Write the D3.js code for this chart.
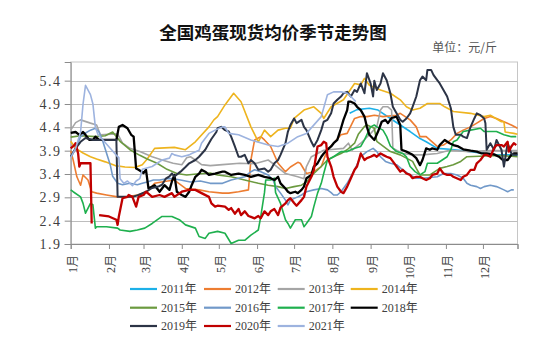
<!DOCTYPE html>
<html><head><meta charset="utf-8">
<script src="https://cdn.jsdelivr.net/npm/d3@7"></script>
<style>body{margin:0;background:#fff}</style>
</head><body>
<svg id="c" width="550" height="340"></svg>
<script>
const title = "全国鸡蛋现货均价季节走势图";
const unitLabel = "单位：元/斤";
const monthLabels = ["1月","2月","3月","4月","5月","6月","7月","8月","9月","10月","11月","12月"];
const monthStartDay = [0,31,59,90,120,151,181,212,243,273,304,334];
const yTickValues = [1.9,2.4,2.9,3.4,3.9,4.4,4.9,5.4];
const years = ["2011年","2012年","2013年","2014年","2015年","2016年","2017年","2018年","2019年","2020年","2021年"];

// [day of year, price]
const s2011 = [[226,4.7],[232,4.78],[242,4.81],[249,4.77],[259,4.59],[267,4.45],[275,4.31],[283,4.16],[288,4.09],[297,3.95],[307,3.93],[324,3.88],[335,3.84],[345,3.81],[362,3.81]];
const s2012 = [[0,3.9],[2,3.7],[5,3.34],[8,3.16],[10,3.38],[14,3.27],[17,3.02],[21,2.99],[29,2.95],[38,2.91],[46,2.91],[54,2.95],[62,3.02],[68,3.2],[76,3.24],[84,3.27],[93,3.09],[104,3.06],[112,3.02],[123,2.99],[128,2.99],[136,3.02],[144,3.06],[146,3.7],[149,4.13],[154,4.2],[157,4.13],[162,3.99],[168,3.63],[174,3.45],[178,3.55],[184,3.65],[186,3.63],[191,3.41],[197,3.45],[203,3.56],[208,3.92],[213,4.06],[219,4.24],[224,4.27],[230,4.59],[235,4.63],[240,4.63],[246,4.66],[253,4.63],[264,4.66],[267,4.7],[275,4.56],[280,4.41],[283,4.2],[288,4.2],[297,3.99],[302,4.02],[308,4.13],[313,4.27],[318,4.34],[324,4.41],[329,4.49],[335,4.59],[340,4.63],[345,4.59],[351,4.52],[357,4.45],[362,4.38]];
const s2013 = [[0,4.34],[4,4.5],[8,4.56],[16,4.49],[21,4.45],[24,4.24],[38,4.26],[42,4.06],[48,3.95],[56,3.88],[66,3.77],[74,3.7],[83,3.63],[90,3.6],[94,3.75],[97,3.77],[101,3.7],[106,3.6],[113,3.58],[123,3.6],[137,3.63],[149,3.62],[160,3.7],[165,3.6],[174,3.41],[184,3.34],[189,3.3],[191,3.56],[195,3.77],[205,3.91],[221,3.95],[225,4.06],[228,3.91],[235,4.06],[242,4.24],[248,4.41],[251,4.77],[253,4.84],[257,4.84],[260,4.77],[261,3.95],[264,3.91],[269,3.84],[277,3.81],[285,3.81],[297,3.84],[307,3.91],[323,3.88],[339,3.9],[362,3.9]];
const s2014 = [[0,4.1],[4,3.95],[10,3.85],[16,3.77],[21,3.72],[28,3.66],[36,3.58],[44,3.55],[52,3.54],[58,3.6],[62,3.72],[68,3.95],[84,3.97],[93,3.92],[101,4.09],[112,4.41],[116,4.56],[119,4.63],[125,4.88],[132,5.13],[138,4.95],[146,4.41],[152,4.09],[157,4.34],[162,4.2],[168,4.34],[174,4.38],[178,4.38],[181,4.59],[189,4.77],[197,4.84],[203,4.7],[205,4.59],[211,4.84],[221,4.99],[230,5.34],[235,5.31],[238,5.45],[242,5.3],[251,5.2],[259,5.13],[267,4.99],[272,4.84],[277,4.77],[283,4.81],[289,4.91],[299,4.91],[303,4.84],[308,4.77],[310,4.74],[324,4.7],[335,4.63],[340,4.66],[349,4.52],[351,4.52],[352,4.3],[359,4.27],[362,4.25]];
const s2015 = [[0,4.19],[8,4.22],[20,4.2],[28,4.22],[34,4.3],[40,4.1],[48,3.92],[56,3.8],[62,3.72],[70,3.63],[78,3.5],[86,3.41],[94,3.38],[102,3.4],[113,3.42],[119,3.38],[130,3.34],[141,3.27],[152,3.2],[160,3.16],[168,3.13],[174,3.09],[181,3.13],[187,3.16],[191,3.23],[197,3.41],[203,3.56],[208,3.7],[213,3.77],[219,3.84],[224,3.92],[230,4.06],[233,4.25],[238,4.42],[240,4.45],[246,4.38],[248,4.1],[259,3.88],[267,3.81],[272,3.74],[277,3.67],[280,3.52],[283,3.38],[291,3.38],[299,3.52],[305,3.56],[310,3.6],[316,3.67],[321,3.77],[331,3.78],[345,3.8],[357,3.78],[362,3.77]];
const s2016 = [[0,3.77],[4,3.95],[8,4.2],[12,4.28],[16,4.34],[20,4.38],[23,4.3],[26,4.1],[29,3.85],[32,3.6],[34,3.35],[38,3.2],[42,3.17],[48,3.2],[54,3.17],[58,3.2],[62,3.23],[67,3.27],[72,3.27],[78,3.3],[83,3.3],[89,3.27],[97,3.23],[105,3.25],[113,3.2],[123,3.2],[130,3.27],[141,3.34],[146,3.45],[149,3.49],[154,3.45],[160,3.38],[164,3.27],[166,3.13],[170,2.99],[174,2.84],[176,2.74],[178,2.84],[184,2.91],[187,2.95],[191,3.02],[197,3.06],[203,3.09],[208,3.06],[211,3.0],[213,2.95],[216,2.95],[219,3.02],[224,3.2],[230,3.49],[235,3.77],[240,3.88],[245,3.95],[248,3.88],[251,3.77],[255,3.67],[259,3.63],[264,3.6],[269,3.49],[275,3.38],[280,3.31],[285,3.31],[297,3.34],[302,3.41],[308,3.41],[313,3.38],[318,3.31],[321,3.2],[324,3.16],[329,3.13],[332,3.09],[335,3.13],[340,3.16],[345,3.13],[351,3.06],[354,3.02],[357,3.06],[359,3.06]];
const s2017 = [[0,3.06],[2,3.02],[8,2.91],[10,2.77],[12,2.56],[16,2.77],[18,2.74],[20,2.24],[21,2.27],[29,2.27],[38,2.24],[40,2.2],[48,2.17],[54,2.2],[60,2.24],[66,2.34],[74,2.49],[82,2.49],[88,2.42],[93,2.31],[101,2.24],[104,2.06],[109,2.02],[112,2.13],[119,2.17],[125,2.13],[130,1.91],[136,1.98],[141,1.98],[146,2.09],[152,2.2],[154,2.49],[157,3.0],[158,3.27],[162,3.27],[165,3.31],[166,3.0],[170,2.77],[174,2.42],[176,2.34],[178,2.24],[182,2.42],[187,2.42],[189,2.27],[191,2.34],[195,2.49],[197,2.7],[200,2.99],[203,3.2],[205,3.41],[208,3.7],[213,3.77],[219,3.88],[224,3.88],[230,3.95],[235,3.99],[238,4.13],[243,4.41],[246,4.45],[248,4.41],[253,4.34],[256,4.2],[259,4.0],[264,3.88],[269,3.84],[272,3.77],[275,3.56],[279,3.45],[283,3.38],[287,3.45],[289,3.63],[297,3.63],[301,3.7],[305,3.77],[308,3.92],[310,4.09],[313,4.13],[318,4.31],[324,4.34],[332,4.38],[335,4.31],[345,4.31],[351,4.24],[357,4.2],[361,4.2]];
const s2018 = [[0,4.28],[4,4.3],[7,4.24],[10,4.3],[12,4.24],[15,4.13],[18,4.13],[20,4.2],[23,4.13],[28,4.13],[37,4.13],[39,4.41],[42,4.45],[46,4.38],[49,4.24],[51,4.2],[53,3.52],[55,3.49],[59,3.42],[61,3.49],[63,3.09],[66,3.13],[68,3.16],[72,3.02],[74,3.09],[76,3.16],[80,3.06],[82,3.24],[84,3.38],[86,3.02],[90,2.95],[93,2.91],[96,3.02],[98,3.16],[101,3.34],[104,3.41],[106,3.49],[109,3.45],[112,3.38],[117,3.41],[123,3.45],[125,3.45],[130,3.38],[136,3.41],[141,3.38],[146,3.34],[152,3.38],[157,3.34],[162,3.31],[165,3.27],[168,3.34],[170,3.2],[174,3.09],[176,3.02],[178,2.99],[182,3.02],[184,2.99],[187,3.06],[189,3.13],[191,3.31],[195,3.38],[197,3.56],[200,3.63],[203,3.77],[205,3.84],[208,3.92],[211,3.99],[213,4.06],[216,4.13],[219,4.38],[221,4.56],[224,4.77],[225,4.95],[227,4.95],[230,4.91],[232,4.84],[235,4.77],[238,4.63],[240,4.41],[242,4.24],[246,4.13],[249,4.31],[252,4.52],[255,4.56],[257,4.49],[260,4.6],[264,4.63],[267,4.45],[268,3.92],[272,3.88],[275,3.84],[277,3.81],[280,3.74],[283,3.59],[285,3.7],[288,3.95],[291,3.92],[293,3.95],[297,3.92],[299,4.02],[303,4.13],[307,4.06],[310,4.02],[314,3.99],[318,3.93],[324,3.9],[329,3.88],[333,3.84],[337,3.84],[343,3.82],[347,3.77],[350,3.7],[354,3.7],[357,3.81],[359,3.84],[362,3.84]];
const s2019 = [[0,3.77],[4,3.95],[8,4.09],[12,4.17],[18,4.13],[23,4.13],[37,4.13],[38,2.91],[45,2.91],[50,2.91],[55,2.95],[61,3.02],[66,3.1],[71,3.13],[74,3.17],[77,3.3],[80,3.35],[82,3.41],[84,3.35],[89,3.45],[93,3.55],[96,3.63],[101,3.7],[104,3.77],[109,3.92],[112,4.06],[114,4.15],[118,4.3],[119,4.38],[122,4.41],[125,4.34],[128,4.31],[130,4.2],[133,3.99],[136,3.77],[138,3.77],[141,3.81],[144,3.63],[146,3.7],[149,3.63],[152,3.49],[157,3.52],[160,3.45],[162,3.49],[165,3.63],[168,3.7],[170,3.81],[174,4.06],[176,4.31],[178,4.45],[181,4.59],[183,4.49],[187,4.56],[189,4.41],[191,4.34],[195,4.09],[197,3.99],[200,4.13],[203,4.34],[205,4.52],[208,4.56],[211,4.7],[213,4.91],[216,4.99],[219,5.06],[221,5.13],[224,5.16],[227,5.06],[230,5.2],[232,5.16],[235,5.34],[238,5.13],[240,5.56],[243,5.34],[245,5.06],[246,5.4],[248,5.2],[251,5.34],[253,5.56],[256,5.41],[259,5.13],[261,4.84],[264,4.7],[267,4.56],[269,4.52],[272,4.59],[275,4.7],[277,4.84],[280,5.06],[283,5.41],[285,5.49],[288,5.41],[289,5.63],[292,5.63],[294,5.52],[297,5.41],[299,5.34],[302,5.2],[305,5.06],[308,4.81],[310,4.41],[312,4.24],[316,4.24],[318,4.2],[321,4.17],[324,4.41],[327,4.59],[329,4.7],[332,4.66],[335,4.59],[336,4.49],[337,3.92],[340,4.06],[343,3.92],[345,4.13],[349,3.92],[351,3.56],[354,4.06],[357,3.84],[359,3.81],[362,3.81]];
const s2020 = [[0,3.95],[3,4.02],[4,4.06],[6,3.84],[7,3.56],[8,3.63],[16,3.63],[17,2.34],[20,null],[23,2.52],[31,2.49],[37,2.42],[38,2.31],[39,2.49],[42,2.88],[46,2.91],[47,2.95],[50,2.91],[53,2.7],[55,2.91],[59,2.95],[61,3.02],[66,2.91],[72,2.95],[76,2.91],[82,2.99],[84,2.91],[90,3.02],[96,3.06],[101,3.06],[106,2.99],[112,2.91],[114,2.77],[117,2.7],[119,2.72],[125,2.7],[128,2.63],[130,2.67],[133,2.55],[136,2.65],[138,2.52],[141,2.6],[144,2.5],[146,2.48],[149,2.45],[152,2.5],[154,2.45],[157,2.6],[160,2.52],[162,2.6],[165,2.65],[168,2.52],[170,2.68],[174,2.77],[176,2.84],[178,2.88],[181,2.78],[183,2.72],[187,2.84],[189,2.91],[191,3.13],[195,3.34],[197,3.49],[200,3.99],[203,4.02],[205,4.09],[207,4.06],[208,3.77],[211,3.56],[213,3.34],[216,3.13],[219,3.02],[221,2.99],[224,3.13],[227,3.31],[230,3.49],[232,3.56],[235,3.84],[238,3.7],[240,3.74],[243,3.77],[246,3.81],[248,3.77],[251,3.84],[253,3.81],[256,3.77],[259,3.74],[261,3.67],[264,3.56],[267,3.45],[269,3.49],[272,3.41],[275,3.38],[277,3.31],[280,3.34],[283,3.34],[285,3.31],[288,3.27],[291,3.31],[293,3.38],[297,3.41],[299,3.52],[302,3.41],[305,3.38],[308,3.38],[310,3.34],[316,3.27],[318,3.34],[321,3.38],[324,3.49],[327,3.49],[329,3.63],[332,3.7],[335,3.81],[337,3.81],[340,3.77],[343,3.95],[345,4.02],[349,4.02],[351,3.99],[354,4.09],[355,3.88],[357,3.99],[359,4.06],[361,4.02]];
const s2021 = [[0,3.75],[4,3.95],[8,4.3],[10,4.9],[12,5.3],[16,5.1],[18,4.9],[20,4.4],[22,4.25],[27,4.1],[32,3.95],[37,3.8],[39,3.75],[40,3.3],[43,3.2],[46,3.25],[50,3.15],[53,3.25],[56,3.3],[58,3.5],[66,3.56],[74,3.7],[80,3.74],[82,3.84],[84,3.81],[90,3.77],[96,3.81],[98,3.84],[104,3.91],[106,4.06],[112,4.27],[117,4.34],[123,4.41],[125,4.41],[128,4.27],[136,4.24],[146,4.13],[160,4.02],[168,3.99],[176,4.06],[184,4.2],[191,4.27],[203,4.63],[208,5.1],[213,5.16],[219,5.16],[224,5.13],[227,5.06],[231,4.95]];

const seriesData = [s2011,s2012,s2013,s2014,s2015,s2016,s2017,s2018,s2019,s2020,s2021];
const colors = ["#1cb0e8","#ed7d31","#a5a5a5","#eeb41e","#6b9a3f","#7199c9","#1fb04e","#000000","#2c3446","#c00000","#9db3df"];
const widths = [1.6,1.6,1.6,1.6,1.6,1.6,1.6,2.3,2,2.3,1.6];

const svg = d3.select("#c");
const x = d3.scaleLinear().domain([0,362]).range([70.7,517.5]);
const y = d3.scaleLinear().domain([1.9,5.8]).range([244,62]);

svg.append("text").attr("x",273).attr("y",39).attr("text-anchor","middle")
  .attr("font-family","'Noto Sans CJK SC'").attr("font-weight","bold").attr("font-size",17.5)
  .attr("fill","#111").text(title);
svg.append("text").attr("x",497).attr("y",52).attr("text-anchor","end")
  .attr("font-family","'Noto Sans CJK SC'").attr("font-size",12).attr("fill","#555").text(unitLabel);

// frame
svg.append("rect").attr("x",70.7).attr("y",62).attr("width",517.5-70.7).attr("height",182)
  .attr("fill","none").attr("stroke","#c6c6c6");
// grid
svg.append("g").selectAll("line").data(yTickValues.slice(1)).join("line")
  .attr("x1",70.7).attr("x2",517.5).attr("y1",d=>Math.round(y(d))+0.5).attr("y2",d=>Math.round(y(d))+0.5)
  .attr("stroke","#bdbdbd");

// y axis
const yAxis = d3.axisLeft(y).tickValues(yTickValues).tickSize(6).tickFormat(d3.format(".1f"));
const gy = svg.append("g").attr("transform","translate(70.7,0)").call(yAxis);
gy.select(".domain").attr("stroke","#8c8c8c");
gy.selectAll(".tick line").attr("stroke","#8c8c8c");
gy.selectAll("text").attr("font-family","'Liberation Serif'").attr("font-size",14).attr("fill","#404040")
  .attr("letter-spacing",1.6).attr("x",-9);

// x axis
const xAxis = d3.axisBottom(x).tickValues(monthStartDay.concat([362])).tickSize(5).tickFormat(()=>"");
const gx = svg.append("g").attr("transform","translate(0,244)").call(xAxis);
gx.select(".domain").attr("stroke","#8c8c8c");
gx.selectAll(".tick line").attr("stroke","#8c8c8c");
svg.append("g").selectAll("text").data(monthLabels).join("text")
  .attr("transform",(d,i)=>`translate(${x(monthStartDay[i])+2},255) rotate(-90)`)
  .attr("text-anchor","end").attr("dominant-baseline","central")
  .attr("font-family","'Liberation Serif','Noto Sans CJK SC'").attr("font-size",12).attr("fill","#404040")
  .text(d=>d);

// lines
const line = d3.line().defined(d=>d[1]!==null).x(d=>x(d[0])).y(d=>y(d[1]));
svg.append("g").selectAll("path").data(seriesData).join("path")
  .attr("d",line).attr("fill","none")
  .attr("stroke",(d,i)=>colors[i]).attr("stroke-width",(d,i)=>widths[i])
  .attr("stroke-linejoin","round");

// legend
const legX = [130,204,277.7,350.7], legY = [289,307.7,326];
const lg = svg.append("g").selectAll("g").data(years).join("g")
  .attr("transform",(d,i)=>`translate(${legX[i%4]},${legY[Math.floor(i/4)]})`);
lg.append("line").attr("x1",0).attr("x2",27).attr("stroke",(d,i)=>colors[i]).attr("stroke-width",2.2);
lg.append("text").attr("x",31).attr("dominant-baseline","central")
  .attr("font-family","'Liberation Serif','Noto Sans CJK SC'").attr("font-size",12).attr("fill","#404040")
  .text(d=>d);
</script>
</body></html>
